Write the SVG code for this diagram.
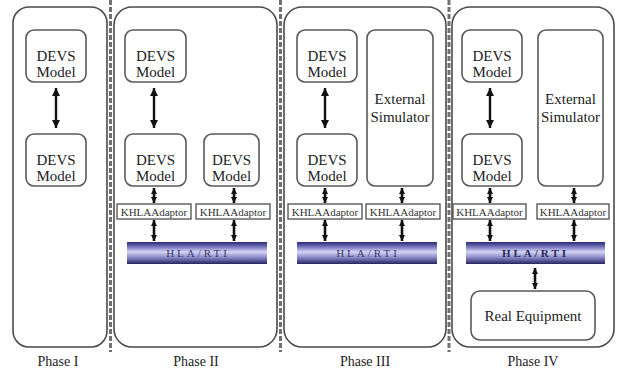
<svg xmlns="http://www.w3.org/2000/svg" width="620" height="372" viewBox="0 0 620 372">
<defs>
<style>
.panel{fill:#fff;stroke:#4a4a4a;stroke-width:1.6}
.sep{stroke:#707070;stroke-width:3;stroke-dasharray:5 2;fill:none}
.box{fill:#fff;stroke:#5a5a5a;stroke-width:1.6}
.adp{fill:#fff;stroke:#5a5a5a;stroke-width:1.4}
.t{font-family:"Liberation Serif","Times New Roman",serif;font-size:15px;fill:#222;text-anchor:middle}
.at{font-family:"Liberation Serif","Times New Roman",serif;font-size:11px;fill:#333;text-anchor:middle}
.ht{font-family:"Liberation Serif","Times New Roman",serif;font-size:11px;fill:#3a3a66;text-anchor:middle;letter-spacing:3px}
.lbl{font-family:"Liberation Serif","Times New Roman",serif;font-size:14px;fill:#222;text-anchor:middle}
.arr{stroke:#111;stroke-width:2.4;fill:none;marker-start:url(#ah);marker-end:url(#ah)}
.sarr{stroke:#111;stroke-width:2.6;fill:none;marker-start:url(#sh);marker-end:url(#sh)}
</style>
<marker id="ah" viewBox="0 0 10 10" refX="10" refY="5" markerWidth="8" markerHeight="8" markerUnits="userSpaceOnUse" orient="auto-start-reverse"><path d="M0,0 L10,5 L0,10 z" fill="#111"/></marker>
<marker id="sh" viewBox="0 0 10 10" refX="10" refY="5" markerWidth="7" markerHeight="6" markerUnits="userSpaceOnUse" orient="auto-start-reverse"><path d="M0,0 L10,5 L0,10 z" fill="#111"/></marker>
<linearGradient id="hg" x1="0" y1="0" x2="0" y2="1">
<stop offset="0" stop-color="#2c2c72"/>
<stop offset="0.15" stop-color="#5a5aa8"/>
<stop offset="0.45" stop-color="#d4d4f6"/>
<stop offset="0.7" stop-color="#8a8ac8"/>
<stop offset="1" stop-color="#24245e"/>
</linearGradient>
</defs>
<rect width="620" height="372" fill="#fff"/>

<g id="panels">
<rect class="panel" x="13" y="7" width="94" height="340" rx="16"/>
<rect class="panel" x="114" y="7" width="163" height="340" rx="18"/>
<rect class="panel" x="284" y="7" width="162" height="340" rx="18"/>
<rect class="panel" x="452" y="7" width="162" height="340" rx="18"/>
</g>
<g id="separators">
<line class="sep" x1="110.5" y1="0" x2="110.5" y2="352"/>
<line class="sep" x1="280.5" y1="0" x2="280.5" y2="352"/>
<line class="sep" x1="449" y1="0" x2="449" y2="352"/>
</g>

<!-- Phase I -->
<g id="p1-devs1"><rect class="box" x="26" y="30" width="60" height="52" rx="8"/><text class="t" x="56" y="61">DEVS</text><text class="t" x="56" y="77">Model</text></g>
<g id="p1-devs2"><rect class="box" x="26" y="134" width="60" height="52" rx="8"/><text class="t" x="56" y="165">DEVS</text><text class="t" x="56" y="181">Model</text></g>

<!-- Phase II -->
<g id="p2-devs1"><rect class="box" x="125" y="30" width="61" height="52" rx="8"/><text class="t" x="155.5" y="61">DEVS</text><text class="t" x="155.5" y="77">Model</text></g>
<g id="p2-devs2"><rect class="box" x="125" y="134" width="61" height="52" rx="8"/><text class="t" x="155.5" y="165">DEVS</text><text class="t" x="155.5" y="181">Model</text></g>
<g id="p2-devs3"><rect class="box" x="204" y="134" width="55" height="52" rx="8"/><text class="t" x="231.5" y="165">DEVS</text><text class="t" x="231.5" y="181">Model</text></g>
<g id="p2-adp1"><rect class="adp" x="117" y="204" width="74" height="15"/><text class="at" x="154" y="215.5">KHLAAdaptor</text></g>
<g id="p2-adp2"><rect class="adp" x="196" y="204" width="74" height="15"/><text class="at" x="233" y="215.5">KHLAAdaptor</text></g>
<g id="p2-hla"><rect x="127" y="242" width="140" height="22" fill="url(#hg)"/><text class="ht" x="198" y="257">HLA/RTI</text></g>

<!-- Phase III -->
<g id="p3-devs1"><rect class="box" x="297" y="30" width="60" height="52" rx="8"/><text class="t" x="327" y="61">DEVS</text><text class="t" x="327" y="77">Model</text></g>
<g id="p3-devs2"><rect class="box" x="297" y="134" width="60" height="52" rx="8"/><text class="t" x="327" y="165">DEVS</text><text class="t" x="327" y="181">Model</text></g>
<g id="p3-ext"><rect class="box" x="367" y="30" width="66" height="156" rx="8"/><text class="t" x="400" y="104">External</text><text class="t" x="400" y="122">Simulator</text></g>
<g id="p3-adp1"><rect class="adp" x="288" y="204" width="74" height="15"/><text class="at" x="325" y="215.5">KHLAAdaptor</text></g>
<g id="p3-adp2"><rect class="adp" x="366" y="204" width="74" height="15"/><text class="at" x="403" y="215.5">KHLAAdaptor</text></g>
<g id="p3-hla"><rect x="297" y="242" width="140" height="22" fill="url(#hg)"/><text class="ht" x="368" y="257">HLA/RTI</text></g>

<!-- Phase IV -->
<g id="p4-devs1"><rect class="box" x="462" y="30" width="60" height="52" rx="8"/><text class="t" x="492" y="61">DEVS</text><text class="t" x="492" y="77">Model</text></g>
<g id="p4-devs2"><rect class="box" x="462" y="134" width="60" height="52" rx="8"/><text class="t" x="492" y="165">DEVS</text><text class="t" x="492" y="181">Model</text></g>
<g id="p4-ext"><rect class="box" x="538" y="30" width="65" height="156" rx="8"/><text class="t" x="570.5" y="104">External</text><text class="t" x="570.5" y="122">Simulator</text></g>
<g id="p4-adp1"><rect class="adp" x="453" y="204" width="73" height="15"/><text class="at" x="489.5" y="215.5">KHLAAdaptor</text></g>
<g id="p4-adp2"><rect class="adp" x="537" y="204" width="72" height="15"/><text class="at" x="573" y="215.5">KHLAAdaptor</text></g>
<g id="p4-hla"><rect x="466" y="242" width="139" height="22" fill="url(#hg)"/><text class="ht" x="535.5" y="257" style="font-weight:bold;fill:#2a2a55">HLA/RTI</text></g>
<g id="p4-real"><rect class="box" x="471" y="291" width="124" height="49" rx="9"/><text class="t" x="533" y="321">Real Equipment</text></g>

<g id="connectors">
<line class="arr" x1="56" y1="88" x2="56" y2="128"/>
<line class="arr" x1="154" y1="88" x2="154" y2="128"/>
<line class="arr" x1="325" y1="88" x2="325" y2="128"/>
<line class="arr" x1="490" y1="88" x2="490" y2="128"/>

<line class="sarr" x1="154" y1="188" x2="154" y2="203"/>
<line class="sarr" x1="234" y1="188" x2="234" y2="203"/>
<line class="sarr" x1="325" y1="188" x2="325" y2="203"/>
<line class="sarr" x1="402" y1="188" x2="402" y2="203"/>
<line class="sarr" x1="490" y1="188" x2="490" y2="203"/>
<line class="sarr" x1="574" y1="188" x2="574" y2="203"/>

<line class="sarr" x1="154" y1="220" x2="154" y2="241"/>
<line class="sarr" x1="234" y1="220" x2="234" y2="241"/>
<line class="sarr" x1="325" y1="220" x2="325" y2="241"/>
<line class="sarr" x1="402" y1="220" x2="402" y2="241"/>
<line class="sarr" x1="490" y1="220" x2="490" y2="241"/>
<line class="sarr" x1="574" y1="220" x2="574" y2="241"/>

<line class="sarr" x1="535" y1="268" x2="535" y2="289"/>
</g>

<g id="labels">
<text class="lbl" x="58" y="366">Phase I</text>
<text class="lbl" x="196" y="366">Phase II</text>
<text class="lbl" x="365" y="366">Phase III</text>
<text class="lbl" x="533" y="366">Phase IV</text>
</g>
</svg>
